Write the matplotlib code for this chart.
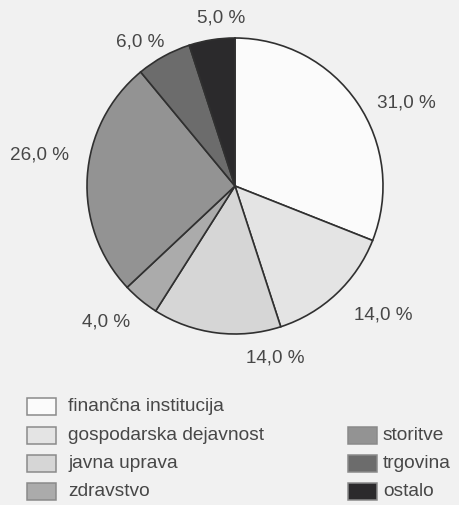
import matplotlib
matplotlib.use("Agg")
import matplotlib.pyplot as plt
from matplotlib.patches import Rectangle

plt.rcParams['font.family'] = ['Liberation Sans', 'DejaVu Sans']

categories = ["finančna institucija", "gospodarska dejavnost", "javna uprava",
              "zdravstvo", "storitve", "trgovina", "ostalo"]
shares = [31.0, 14.0, 14.0, 4.0, 26.0, 6.0, 5.0]
colors = ["#fbfbfb", "#e4e4e4", "#d6d6d6", "#ababab", "#939393", "#6c6c6c", "#2b2a2c"]

# where each percentage label sits, in pie radius units
label_xy = [(1.16, 0.57), (1.0, -0.865), (0.27, -1.155), (-0.87, -0.91),
            (-1.32, 0.215), (-0.64, 0.98), (-0.095, 1.14)]

bg = "#f1f1f1"
txt = "#474747"
W, H = 459, 506

fig = plt.figure(figsize=(W / 100, H / 100), dpi=100, facecolor=bg)
# pie centre ~ (235,187) px, radius ~148 px
ax = fig.add_axes([(235 - 148) / W, 1 - (187 + 148) / H, 296 / W, 296 / H])
ax.set_facecolor(bg)

wedges, _ = ax.pie(shares, colors=colors, startangle=90, counterclock=False,
                   wedgeprops=dict(edgecolor="#303030", linewidth=1.2))
for v, (x, y) in zip(shares, label_xy):
    ax.text(x, y, f"{v:.1f} %".replace(".", ","), ha="center", va="center",
            color=txt, fontsize=13.6, clip_on=False)
ax.set_xlim(-1, 1)
ax.set_ylim(-1, 1)
ax.set_aspect("equal")

# legend: two columns, right one starts on the second row
row_y = [407, 436, 464, 492]
slots = [(0, 0), (0, 1), (0, 2), (0, 3), (1, 1), (1, 2), (1, 3)]
col_x = [27, 348]
text_gap = [41, 35]
for name, c, (col, row) in zip(categories, colors, slots):
    x0 = col_x[col]
    yc = row_y[row]
    fig.patches.append(Rectangle((x0 / W, 1 - (yc + 8.5) / H), 29 / W, 17 / H,
                                 transform=fig.transFigure, facecolor=c,
                                 edgecolor="#8a8a8a", linewidth=1.1))
    fig.text((x0 + text_gap[col]) / W, 1 - yc / H, name, ha="left", va="center",
             color=txt, fontsize=13.8)

fig.savefig("out.png", dpi=100, facecolor=bg)
